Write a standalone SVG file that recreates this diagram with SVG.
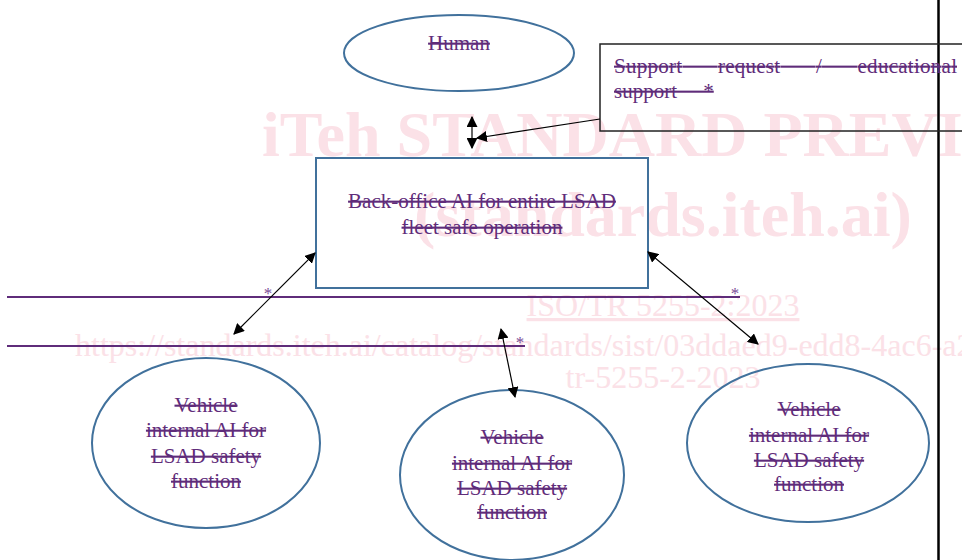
<svg xmlns="http://www.w3.org/2000/svg" width="962" height="560" viewBox="0 0 962 560">
<style>
.wm{font-family:"Liberation Serif",serif;fill:#fbe1e7;}
.wmb{font-weight:bold;}
.node{fill:none;stroke:#41719c;stroke-width:2;}
.lbl{font-family:"Liberation Serif","DejaVu Serif",serif;font-size:21px;fill:#5f2c7a;text-anchor:middle;text-decoration:line-through;}
.conn{stroke:#000;stroke-width:1.2;fill:none;}
.pl{stroke:#5f2c7a;stroke-width:2;}
.ast{font-family:"Liberation Serif",serif;font-size:17px;fill:#7a4a96;text-anchor:middle;}
</style>
<defs>
<marker id="ah" viewBox="0 0 10 10" refX="9" refY="5" markerWidth="11" markerHeight="11" markerUnits="userSpaceOnUse" orient="auto-start-reverse">
<path d="M0,0 L10,5 L0,10 z" fill="#000"/>
</marker>
</defs>
<rect width="962" height="560" fill="#fff"/>
<g id="watermark">
<text class="wm wmb" x="262" y="156" font-size="64">iTeh STANDARD PREVI</text>
<text class="wm wmb" x="663" y="236" font-size="64" text-anchor="middle">(standards.iteh.ai)</text>
<text class="wm" x="663" y="316" font-size="32" text-anchor="middle" text-decoration="underline">ISO/TR 5255-2:2023</text>
<text class="wm" x="75" y="356" font-size="32">https://standards.iteh.ai/catalog/standards/sist/03ddaed9-edd8-4ac6-a2</text>
<text class="wm" x="663" y="388" font-size="32" text-anchor="middle">tr-5255-2-2023</text>
</g>
<line x1="938.5" y1="0" x2="938.5" y2="560" stroke="#000" stroke-width="2.5"/>
<g id="human">
<ellipse class="node" cx="459" cy="53" rx="115" ry="38"/>
<text class="lbl" x="459" y="50">Human</text>
</g>
<g id="support">
<rect x="600" y="44" width="370" height="87" fill="none" stroke="#222" stroke-width="1.5"/>
<text class="lbl" x="614" y="73" style="text-anchor:start" textLength="343" lengthAdjust="spacing" word-spacing="30">Support request / educational</text>
<text class="lbl" x="614" y="98" style="text-anchor:start" xml:space="preserve">support     *</text>
</g>
<g id="backoffice">
<rect class="node" x="316" y="158" width="332" height="130"/>
<text class="lbl" x="482" y="208">Back-office AI for entire LSAD</text>
<text class="lbl" x="482" y="234">fleet safe operation</text>
</g>
<g id="vehicle1">
<ellipse class="node" cx="206" cy="443" rx="114" ry="85"/>
<text class="lbl" x="206" y="412">Vehicle</text>
<text class="lbl" x="206" y="437">internal AI for</text>
<text class="lbl" x="206" y="463">LSAD safety</text>
<text class="lbl" x="206" y="488">function</text>
</g>
<g id="vehicle2">
<ellipse class="node" cx="512" cy="475" rx="112" ry="85"/>
<text class="lbl" x="512" y="444">Vehicle</text>
<text class="lbl" x="512" y="470">internal AI for</text>
<text class="lbl" x="512" y="495">LSAD safety</text>
<text class="lbl" x="512" y="519">function</text>
</g>
<g id="vehicle3">
<ellipse class="node" cx="808" cy="443" rx="121" ry="79"/>
<text class="lbl" x="809" y="416">Vehicle</text>
<text class="lbl" x="809" y="442">internal AI for</text>
<text class="lbl" x="809" y="467">LSAD safety</text>
<text class="lbl" x="809" y="491">function</text>
</g>
<g id="lines">
<line class="pl" x1="7" y1="297" x2="740" y2="297"/>
<text class="ast" x="268" y="299">*</text>
<text class="ast" x="735" y="299">*</text>
<line class="pl" x1="7" y1="346" x2="525" y2="346"/>
<text class="ast" x="520" y="348">*</text>
</g>
<g id="connectors">
<line class="conn" x1="472" y1="117" x2="472" y2="148" marker-start="url(#ah)" marker-end="url(#ah)"/>
<line class="conn" x1="600" y1="119" x2="477" y2="138" marker-end="url(#ah)"/>
<line class="conn" x1="315" y1="253" x2="234" y2="334" marker-start="url(#ah)" marker-end="url(#ah)"/>
<line class="conn" x1="648" y1="252" x2="758" y2="344" marker-start="url(#ah)" marker-end="url(#ah)"/>
<line class="conn" x1="501" y1="329" x2="515" y2="397" marker-start="url(#ah)" marker-end="url(#ah)"/>
</g>
</svg>
